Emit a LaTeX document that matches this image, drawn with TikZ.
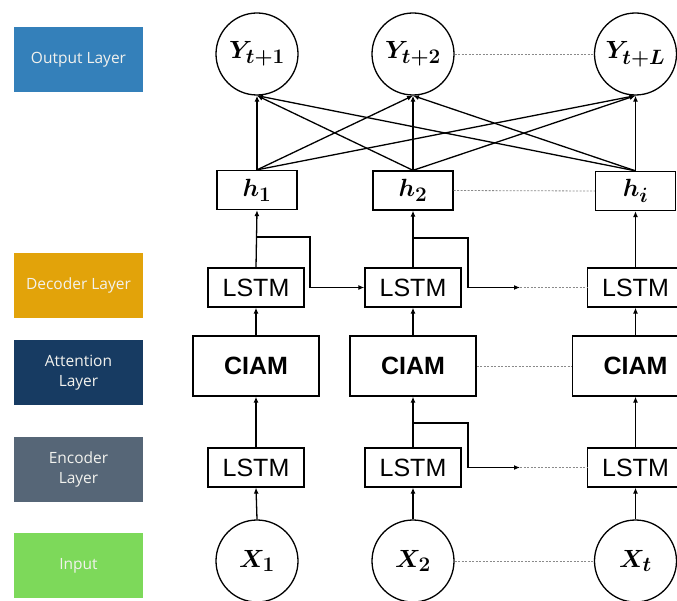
\documentclass[tikz,border=0pt]{standalone}
\usepackage{amsmath,bm}
\usepackage{fontspec}
\setsansfont{Liberation Sans}
\newfontfamily\labfont{Open Sans}
\DeclareMathSizes{28}{28}{21}{16}
\usetikzlibrary{arrows.meta}
\definecolor{cout}{HTML}{3480BA}
\definecolor{cdec}{HTML}{E2A30A}
\definecolor{catt}{HTML}{173B62}
\definecolor{cenc}{HTML}{566677}
\definecolor{cinp}{HTML}{7DD95A}
\definecolor{dashc}{HTML}{8A8A8A}
\definecolor{labtxt}{HTML}{F2F2EE}
\begin{document}
\begin{tikzpicture}[x=1pt,y=-1pt,
  lay/.style={minimum width=129, minimum height=65, inner sep=0, align=center,
    text=labtxt, font=\labfont\fontsize{15.5}{20}\selectfont},
  circ/.style={draw, line width=1.3pt, circle, minimum size=82, inner sep=0,
    font=\fontsize{28}{32}\selectfont},
  hbox/.style={draw, line width=1.3pt, minimum width=80, minimum height=39, inner sep=0,
    font=\fontsize{28}{32}\selectfont},
  lbox/.style={draw, line width=1.3pt, minimum width=96, minimum height=39, inner sep=0,
    font=\sffamily\fontsize{25}{28}\selectfont},
  cbox/.style={draw, line width=1.3pt, minimum width=126, minimum height=60, inner sep=0,
    font=\sffamily\bfseries\fontsize{25}{28}\selectfont},
  arr/.style={line width=1.3pt, -{Latex[length=6pt,width=5pt]}},
  dsh/.style={dashc, line width=0.8pt, dash pattern=on 2pt off 1.5pt}]
\useasboundingbox (0,0) rectangle (677,601);
\begin{scope}
\clip (0,0) rectangle (677,601);
% left layer labels
\node[lay, fill=cout] (lout) at (78.5,60) {Output Layer};
\node[lay, fill=cdec] (ldec) at (78.5,285.5) {Decoder Layer};
\node[lay, fill=catt] (latt) at (78.5,372.5) {Attention\\Layer};
\node[lay, fill=cenc] (lenc) at (78.5,469.5) {Encoder\\Layer};
\node[lay, fill=cinp] (linp) at (78.5,565.5) {Input};
% outputs
\node[circ] (y1) at (257,54) {$\boldsymbol{Y_{t+1}}$};
\node[circ] (y2) at (413,54) {$\boldsymbol{Y_{t+2}}$};
\node[circ] (yl) at (635.5,54) {$\boldsymbol{Y_{t+L}}$};
% hidden
\node[hbox] (h1) at (257,190) {$\boldsymbol{h_{1}}$};
\node[hbox] (h2) at (413,190.5) {$\boldsymbol{h_{2}}$};
\node[hbox] (hi) at (635.5,191) {$\boldsymbol{h_{i}}$};
% decoder
\node[lbox] (d1) at (256,287.5) {LSTM};
\node[lbox] (d2) at (413,287.5) {LSTM};
\node[lbox] (d3) at (635.5,287.5) {LSTM};
% attention
\node[cbox] (c1) at (256,366) {CIAM};
\node[cbox] (c2) at (413,366) {CIAM};
\node[cbox] (c3) at (635.5,366) {CIAM};
% encoder
\node[lbox] (e1) at (256,467.5) {LSTM};
\node[lbox] (e2) at (413,467.5) {LSTM};
\node[lbox] (e3) at (635.5,467.5) {LSTM};
% inputs
\node[circ] (x1) at (257,561) {$\boldsymbol{X_{1}}$};
\node[circ] (x2) at (413,561) {$\boldsymbol{X_{2}}$};
\node[circ] (xt) at (635.5,561) {$\boldsymbol{X_{t}}$};
\end{scope}
% dashed links
\draw[dsh] (y2.east) -- (yl.west);
\draw[dsh] (h2.east) -- (hi.west);
\draw[dsh] (c2.east) -- (c3.west);
\draw[dsh] (x2.east) -- (xt.west);
% h to outputs
\foreach \h in {h1,h2,hi}{
  \foreach \y in {y1,y2,yl}{
    \draw[arr] (\h.north) -- (\y.south);
  }
}
% vertical flow
\draw[arr] (d1.north) -- (h1.south);
\draw[arr] (d2.north) -- (h2.south);
\draw[arr] (d3.north) -- (hi.south);
\draw[arr] (c1.north) -- (d1.south);
\draw[arr] (c2.north) -- (d2.south);
\draw[arr] (c3.north) -- (d3.south);
\draw[arr] (e1.north) -- (c1.south);
\draw[arr] (e2.north) -- (c2.south);
\draw[arr] (e3.north) -- (c3.south);
\draw[arr] (x1.north) -- (e1.south);
\draw[arr] (x2.north) -- (e2.south);
\draw[arr] (xt.north) -- (e3.south);
% decoder recurrences
\coordinate (b1) at (257,237);
\coordinate (b2) at (413,238);
\coordinate (dm) at (520,287.5);
\draw[arr] (b1) -- (310,237) |- (d2.west);
\draw[arr] (b2) -- (468,238) |- (dm);
\draw[dsh] (dm) -- (d3.west);
% encoder recurrence
\coordinate (b3) at (413,423);
\coordinate (em) at (520,467.5);
\draw[arr] (b3) -- (468,423) |- (em);
\draw[dsh] (em) -- (e3.west);
\end{tikzpicture}
\end{document}
